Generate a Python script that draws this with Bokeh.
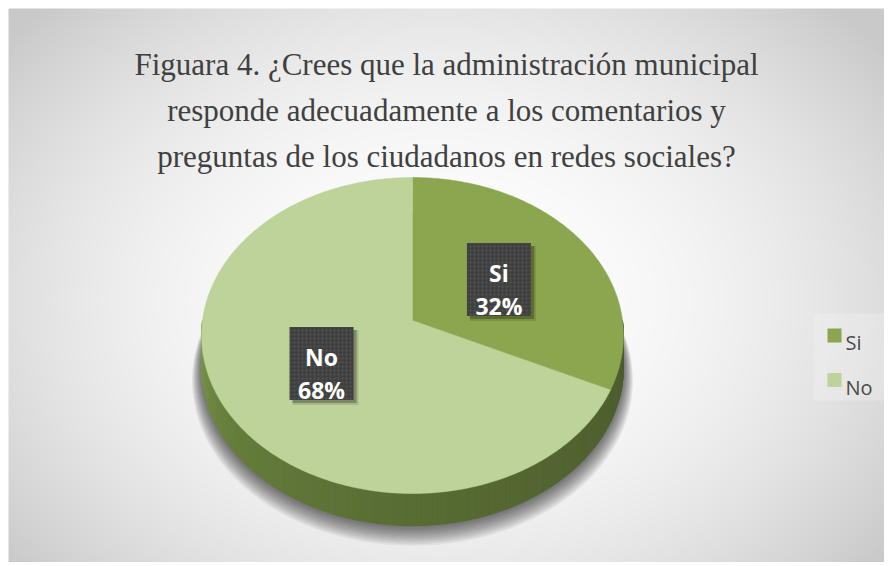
import numpy as np
from bokeh.plotting import figure
from bokeh.models import Range1d
from bokeh.core.properties import value
from bokeh.embed import file_html
from bokeh.resources import INLINE

# ---------------- data ----------------
categories = ["Si", "No"]
percentages = [32, 68]
slice_colors = ["#8BA64E", "#BDD399"]
title_lines = [
    "Figuara 4. ¿Crees que la administración municipal",
    "responde adecuadamente a los comentarios y",
    "preguntas de los ciudadanos en redes sociales?",
]

# ---------------- layout helpers ----------------
W, H = 884, 562
EDGE = 8  # white page border of the original chart image


def X(x):
    return np.asarray(x, dtype=float) + 0.0


def Y(y):
    return H - np.asarray(y, dtype=float)


p = figure(width=W, height=H, x_range=Range1d(0, W), y_range=Range1d(0, H),
           output_backend="svg", toolbar_location=None, min_border=0)
p.axis.visible = False
p.grid.visible = False
p.outline_line_color = None
p.background_fill_color = "white"
p.border_fill_color = "white"

# ---------------- background radial gradient ----------------
bw, bh = W - EDGE, H - EDGE
rows, cols = np.mgrid[0:bh, 0:bw]
fx = cols + EDGE + 0.5
fy = H - (rows + 0.5)
r2 = ((fx - 440) / 560.0) ** 2 + ((fy - 300) / 420.0) ** 2
g = (255 - 54 * np.clip(r2, 0, 1)).astype(np.uint8)
img = np.empty((bh, bw), dtype=np.uint32)
view = img.view(dtype=np.uint8).reshape((bh, bw, 4))
view[..., 0] = g
view[..., 1] = g
view[..., 2] = g
view[..., 3] = 255
p.image_rgba(image=[img], x=EDGE, y=0, dw=bw, dh=bh)

# ---------------- pie geometry (3D perspective) ----------------
CX, CY = 412.0, 320.0
A, B, K = 210.0, 156.6, 0.095
DEPTH = 32.0


def proj(phi_deg, f=1.0):
    t = np.radians(90.0 - np.asarray(phi_deg, dtype=float))
    w = 1 + K * f * np.sin(t)
    return CX + A * f * np.cos(t) / w, CY - B * f * np.sin(t) / w


total = float(sum(percentages))
ends = np.cumsum(percentages) / total * 360.0
starts = np.concatenate([[0.0], ends[:-1]])

# soft shadow under the pie
full = np.linspace(0, 360, 241)
tt = np.radians(90.0 - full)
ww = 1 + K * np.sin(tt)
for i in range(14):
    sc = 1.0 + 0.0035 * i
    xs = CX + A * sc * np.cos(tt) / ww
    ys = CY - B * sc * np.sin(tt) / ww + DEPTH + 0.95 * i
    p.patch(X(xs), Y(ys), fill_color="black", fill_alpha=0.05, line_color=None)


def lerp_col(c1, c2, u):
    return tuple(int(round(a + (b - a) * u)) for a, b in zip(c1, c2))


rim_stops = [(90.0, (0x4C, 0x5B, 0x2D)), (180.0, (0x58, 0x6C, 0x34)),
             (235.0, (0x66, 0x7E, 0x3C)), (270.0, (0x7D, 0x97, 0x4E))]


def rim_color(phi):
    for (a0, c0), (a1, c1) in zip(rim_stops[:-1], rim_stops[1:]):
        if a0 <= phi <= a1:
            return "#%02x%02x%02x" % lerp_col(c0, c1, (phi - a0) / (a1 - a0))
    return "#%02x%02x%02x" % rim_stops[-1][1]


# rim strips (front half of the pie)
edges = np.unique(np.concatenate([np.linspace(90, 270, 181), starts, ends]))
edges = edges[(edges >= 90) & (edges <= 270)]
rx, ry, rc = [], [], []
for a0, a1 in zip(edges[:-1], edges[1:]):
    x0, y0 = proj(a0)
    x1, y1 = proj(a1)
    xs = [x0, x1, x1, x0]
    ys = [y0, y1, y1 + DEPTH, y0 + DEPTH]
    rx.append(list(X(xs)))
    ry.append(list(Y(ys)))
    rc.append(rim_color(0.5 * (a0 + a1)))
p.patches(rx, ry, fill_color=rc, line_color=rc, line_width=1)

# top faces
for cat, s, e, col in zip(categories, starts, ends, slice_colors):
    n = max(3, int((e - s) * 1.5))
    ph = np.linspace(s, e, n)
    xs, ys = proj(ph)
    xs = np.concatenate([[CX], xs])
    ys = np.concatenate([[CY], ys])
    p.patch(X(xs), Y(ys), fill_color=col, line_color=col, line_width=0.5)

# ---------------- data labels ----------------
BOX_W, BOX_H = 64, 73
mids = 0.5 * (starts + ends)
lx, ly = proj(mids, 0.5)
pct_text = ["%d%%" % v for v in percentages]

p.rect(X(lx + 4), Y(ly + 4), width=BOX_W + 2, height=BOX_H + 2,
       fill_color="black", fill_alpha=0.12, line_color=None)
p.rect(X(lx + 3), Y(ly + 3), width=BOX_W, height=BOX_H,
       fill_color="black", fill_alpha=0.25, line_color=None)
p.rect(X(lx), Y(ly), width=BOX_W, height=BOX_H,
       fill_color="#404040", line_color=None,
       hatch_pattern="dot", hatch_color="#6A6A6A", hatch_scale=4,
       hatch_weight=1, hatch_alpha=0.5)
p.text(X(lx), Y(ly - 6.5), text=categories, text_align="center",
       text_baseline="alphabetic", text_color="white",
       text_font=value("Open Sans"), text_font_style="bold",
       text_font_size="23px")
p.text(X(lx), Y(ly + 26.5), text=pct_text, text_align="center",
       text_baseline="alphabetic", text_color="white",
       text_font=value("Open Sans"), text_font_style="bold",
       text_font_size="23px")

# ---------------- title ----------------
title_base = np.array([64, 110, 156])
p.text(X([446] * 3), Y(title_base), text=title_lines, text_align="center",
       text_baseline="alphabetic", text_color="#404040",
       text_font=value("Liberation Serif"), text_font_size="31px")

# ---------------- legend ----------------
p.quad(left=[813.0], right=[884.0], top=[float(H - 313)], bottom=[float(H - 400)],
       fill_color="white", fill_alpha=0.22, line_color=None)
leg_y = np.array([335.0, 379.5])
p.rect(X([834, 834]), Y(leg_y), width=14, height=14,
       fill_color=slice_colors, line_color=None)
p.text(X([845, 845]), Y(leg_y + 7), text=categories, text_align="left",
       text_baseline="alphabetic", text_color="#4A4A4A",
       text_font=value("Open Sans"), text_font_size="20px")

open("out.html", "w").write(file_html(p, INLINE))
